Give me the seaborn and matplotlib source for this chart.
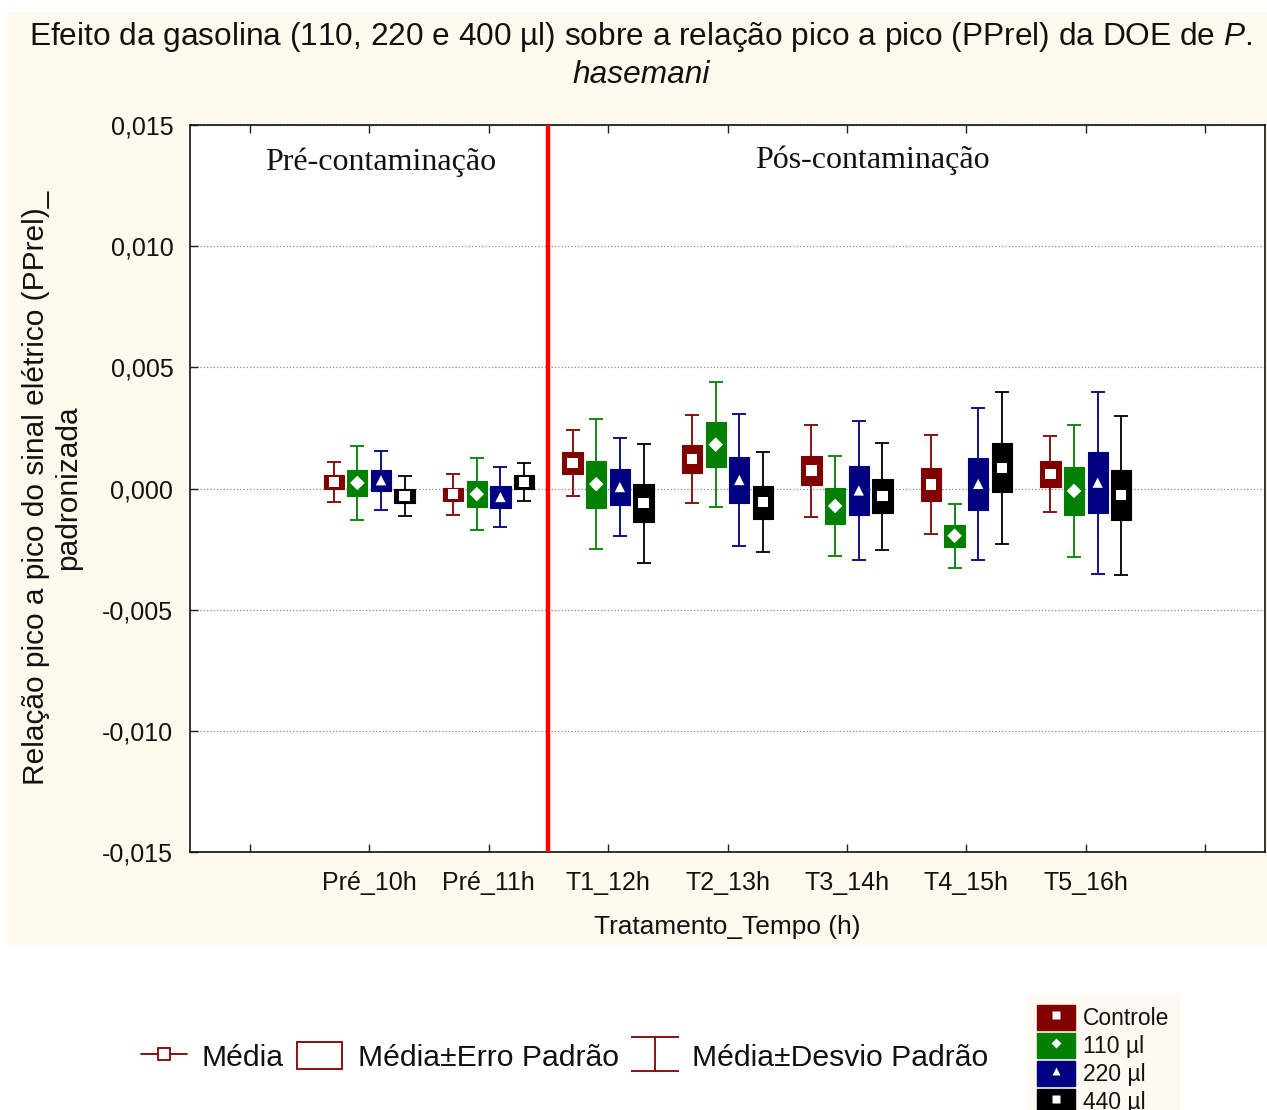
import matplotlib
matplotlib.use('Agg')
import matplotlib.pyplot as plt
import seaborn as sns
import numpy as np
import pandas as pd
from matplotlib.patches import Rectangle, Patch
from matplotlib.lines import Line2D
from matplotlib.path import Path
from matplotlib.ticker import FuncFormatter, FixedLocator

# ---------------- data ----------------
times = ['Pré_10h', 'Pré_11h', 'T1_12h', 'T2_13h', 'T3_14h', 'T4_15h', 'T5_16h']
groups = ['Controle', '110 µl', '220 µl', '440 µl']

mean_controle = [0.00027, -0.00024, 0.00105, 0.00122, 0.00074, 0.00016, 0.00061]
mean_110 = [0.00023, -0.00023, 0.00018, 0.00181, -0.00072, -0.00195, -0.00010]
mean_220 = [0.00034, -0.00035, 0.00006, 0.00035, -0.00008, 0.00019, 0.00024]
mean_440 = [-0.00031, 0.00027, -0.00061, -0.00057, -0.00032, 0.00086, -0.00028]

se_controle = [0.00029, 0.00027, 0.00047, 0.00056, 0.00060, 0.00067, 0.00054]
se_110 = [0.00053, 0.00055, 0.00097, 0.00094, 0.00075, 0.00045, 0.00100]
se_220 = [0.00043, 0.00047, 0.00073, 0.00094, 0.00101, 0.00108, 0.00127]
se_440 = [0.00029, 0.00029, 0.00079, 0.00068, 0.00071, 0.00100, 0.00104]

sd_controle = [0.00084, 0.00085, 0.00136, 0.00180, 0.00190, 0.00204, 0.00157]
sd_110 = [0.00153, 0.00149, 0.00267, 0.00259, 0.00208, 0.00131, 0.00274]
sd_220 = [0.00121, 0.00124, 0.00204, 0.00274, 0.00288, 0.00314, 0.00375]
sd_440 = [0.00083, 0.00080, 0.00246, 0.00206, 0.00220, 0.00314, 0.00329]

means = [mean_controle, mean_110, mean_220, mean_440]
ses = [se_controle, se_110, se_220, se_440]
sds = [sd_controle, sd_110, sd_220, sd_440]

colors = {'Controle': '#800000', '110 µl': '#008000', '220 µl': '#000080', '440 µl': '#000000'}
markers = {'Controle': 's', '110 µl': 'D', '220 µl': '^', '440 µl': 's'}

# ---------------- style ----------------
sns.set_theme(style='white')
plt.rcParams['font.family'] = ['Liberation Sans', 'DejaVu Sans']
plt.rcParams['mathtext.fontset'] = 'custom'
plt.rcParams['mathtext.it'] = 'Liberation Sans:italic'
plt.rcParams['mathtext.rm'] = 'Liberation Sans'
TXT = '#111111'

rows = []
step = 0.198
for gi, g in enumerate(groups):
    for ti, t in enumerate(times):
        rows.append({'tempo': t, 'grupo': g, 'media': means[gi][ti],
                     'ep': ses[gi][ti], 'dp': sds[gi][ti],
                     'x': ti + 1 + (gi - 1.5) * step})
df = pd.DataFrame(rows)

fig = plt.figure(figsize=(12.67, 11.10), dpi=100, facecolor='white')
fig.patches.append(Rectangle((7 / 1267, 1 - 945 / 1110), 1 - 7 / 1267, (945 - 12) / 1110,
                             transform=fig.transFigure, fc='#FFF9EE', ec='none', zorder=-5))

ax = fig.add_axes([190 / 1267, 1 - 852 / 1110, (1265 - 190) / 1267, (852 - 125) / 1110])
ax.set_zorder(2)
ax.set_facecolor('white')

bw = 0.17
for g in groups:
    d = df[df['grupo'] == g]
    c = colors[g]
    ax.errorbar(d['x'], d['media'], yerr=d['dp'], fmt='none', ecolor=c,
                elinewidth=1.3, capsize=5.2, capthick=1.3, zorder=3)
    ax.bar(d['x'], 2 * d['ep'], bottom=d['media'] - d['ep'], width=bw,
           color=c, edgecolor=c, linewidth=0.8, zorder=4)

sns.scatterplot(data=df, x='x', y='media', hue='grupo', style='grupo',
                palette={g: 'white' for g in groups}, markers=markers,
                s=55, edgecolor='none', linewidth=0, legend=False, zorder=5, ax=ax)

ax.axvline(2.5, color='#ff0000', lw=3.2, zorder=6)

ax.set_xlim(-0.5, 8.5)
ax.set_ylim(-0.015, 0.015)
ax.xaxis.set_major_locator(FixedLocator(list(range(9))))
ax.set_xticklabels([''] + times + [''])
ax.yaxis.set_major_locator(FixedLocator([-0.015, -0.010, -0.005, 0.0, 0.005, 0.010, 0.015]))
ax.yaxis.set_major_formatter(FuncFormatter(lambda v, _: f"{v:.3f}".replace('.', ',').replace('-0,000', '0,000')))
ax.grid(axis='y', ls=':', color='#8a8a8a', lw=0.9)
ax.grid(axis='x', visible=False)
ax.set_axisbelow(True)
ax.tick_params(axis='x', direction='in', top=True, bottom=True, length=6, width=1,
               color='#222222', labelsize=18, labelcolor=TXT, pad=14)
ax.tick_params(axis='y', direction='in', left=True, right=False, length=6, width=1,
               color='#222222', labelsize=18, labelcolor=TXT, pad=12)
for s in ax.spines.values():
    s.set_color('#111111')
    s.set_linewidth(1.2)
ax.set_xlabel('')
ax.set_ylabel('')

ax.text(1.1, 0.01345, 'Pré-contaminação', family='Liberation Serif', fontsize=23,
        ha='center', va='center', color=TXT)
ax.text(5.21, 0.01355, 'Pós-contaminação', family='Liberation Serif', fontsize=23,
        ha='center', va='center', color=TXT)

# titles & labels
fig.text(641 / 1267, 1 - 37 / 1110,
         'Efeito da gasolina (110, 220 e 400 µl) sobre a relação pico a pico (PPrel) da DOE de $\\it{P.}$',
         ha='center', va='center', fontsize=22.8, color=TXT)
fig.text(641 / 1267, 1 - 75 / 1110, 'hasemani', style='italic',
         ha='center', va='center', fontsize=22.8, color=TXT)
fig.text(52 / 1267, 1 - 488 / 1110,
         'Relação pico a pico do sinal elétrico (PPrel)_\npadronizada',
         rotation=90, ha='center', va='center', multialignment='center',
         fontsize=21.5, color=TXT, linespacing=1.15)
fig.text(727 / 1267, 1 - 927 / 1110, 'Tratamento_Tempo (h)', ha='center', va='center',
         fontsize=18.9, color=TXT)

# bottom legend (statistics)
dr = '#800000'
ivert = np.array([[-1, 0.72], [1, 0.72], [0, 0.72], [0, -0.72], [-1, -0.72], [1, -0.72]])
icodes = [Path.MOVETO, Path.LINETO, Path.MOVETO, Path.LINETO, Path.MOVETO, Path.LINETO]
ipath = Path(ivert, icodes)
h_mean = Line2D([], [], color=dr, lw=1.3, marker='s', mfc='white', mec=dr, ms=9, mew=1.3)
h_box = Patch(fc='white', ec=dr, lw=1.3)
h_sd = Line2D([], [], ls='none', marker=ipath, mfc='none', mec=dr, ms=34, mew=1.3)
fig.legend([h_mean, h_box, h_sd], ['Média', 'Média±Erro Padrão', 'Média±Desvio Padrão'],
           loc='center', bbox_to_anchor=(565 / 1267, 1 - 1057 / 1110), ncol=3,
           frameon=False, fontsize=21.7, handlelength=1.5, handleheight=1.0,
           handletextpad=0.5, columnspacing=0.45, labelcolor=TXT)

# group legend
handles = []
for g in groups:
    handles.append((Patch(fc=colors[g], ec=colors[g]),
                    Line2D([], [], ls='none', marker=markers[g], mfc='white', mec='none',
                           ms=6 if markers[g] != 'D' else 5)))
leg = fig.legend(handles, groups, loc='upper left',
                 bbox_to_anchor=(1027 / 1267, 1 - 995 / 1110), frameon=True,
                 fontsize=16.5, handlelength=1.65, handleheight=1.3,
                 handletextpad=0.35, labelspacing=0.12, borderpad=0.45,
                 borderaxespad=0, fancybox=False, labelcolor=TXT)
leg.get_frame().set_facecolor('#FFF9EE')
leg.get_frame().set_edgecolor('none')

fig.savefig('out.png', dpi=100, facecolor='white')
